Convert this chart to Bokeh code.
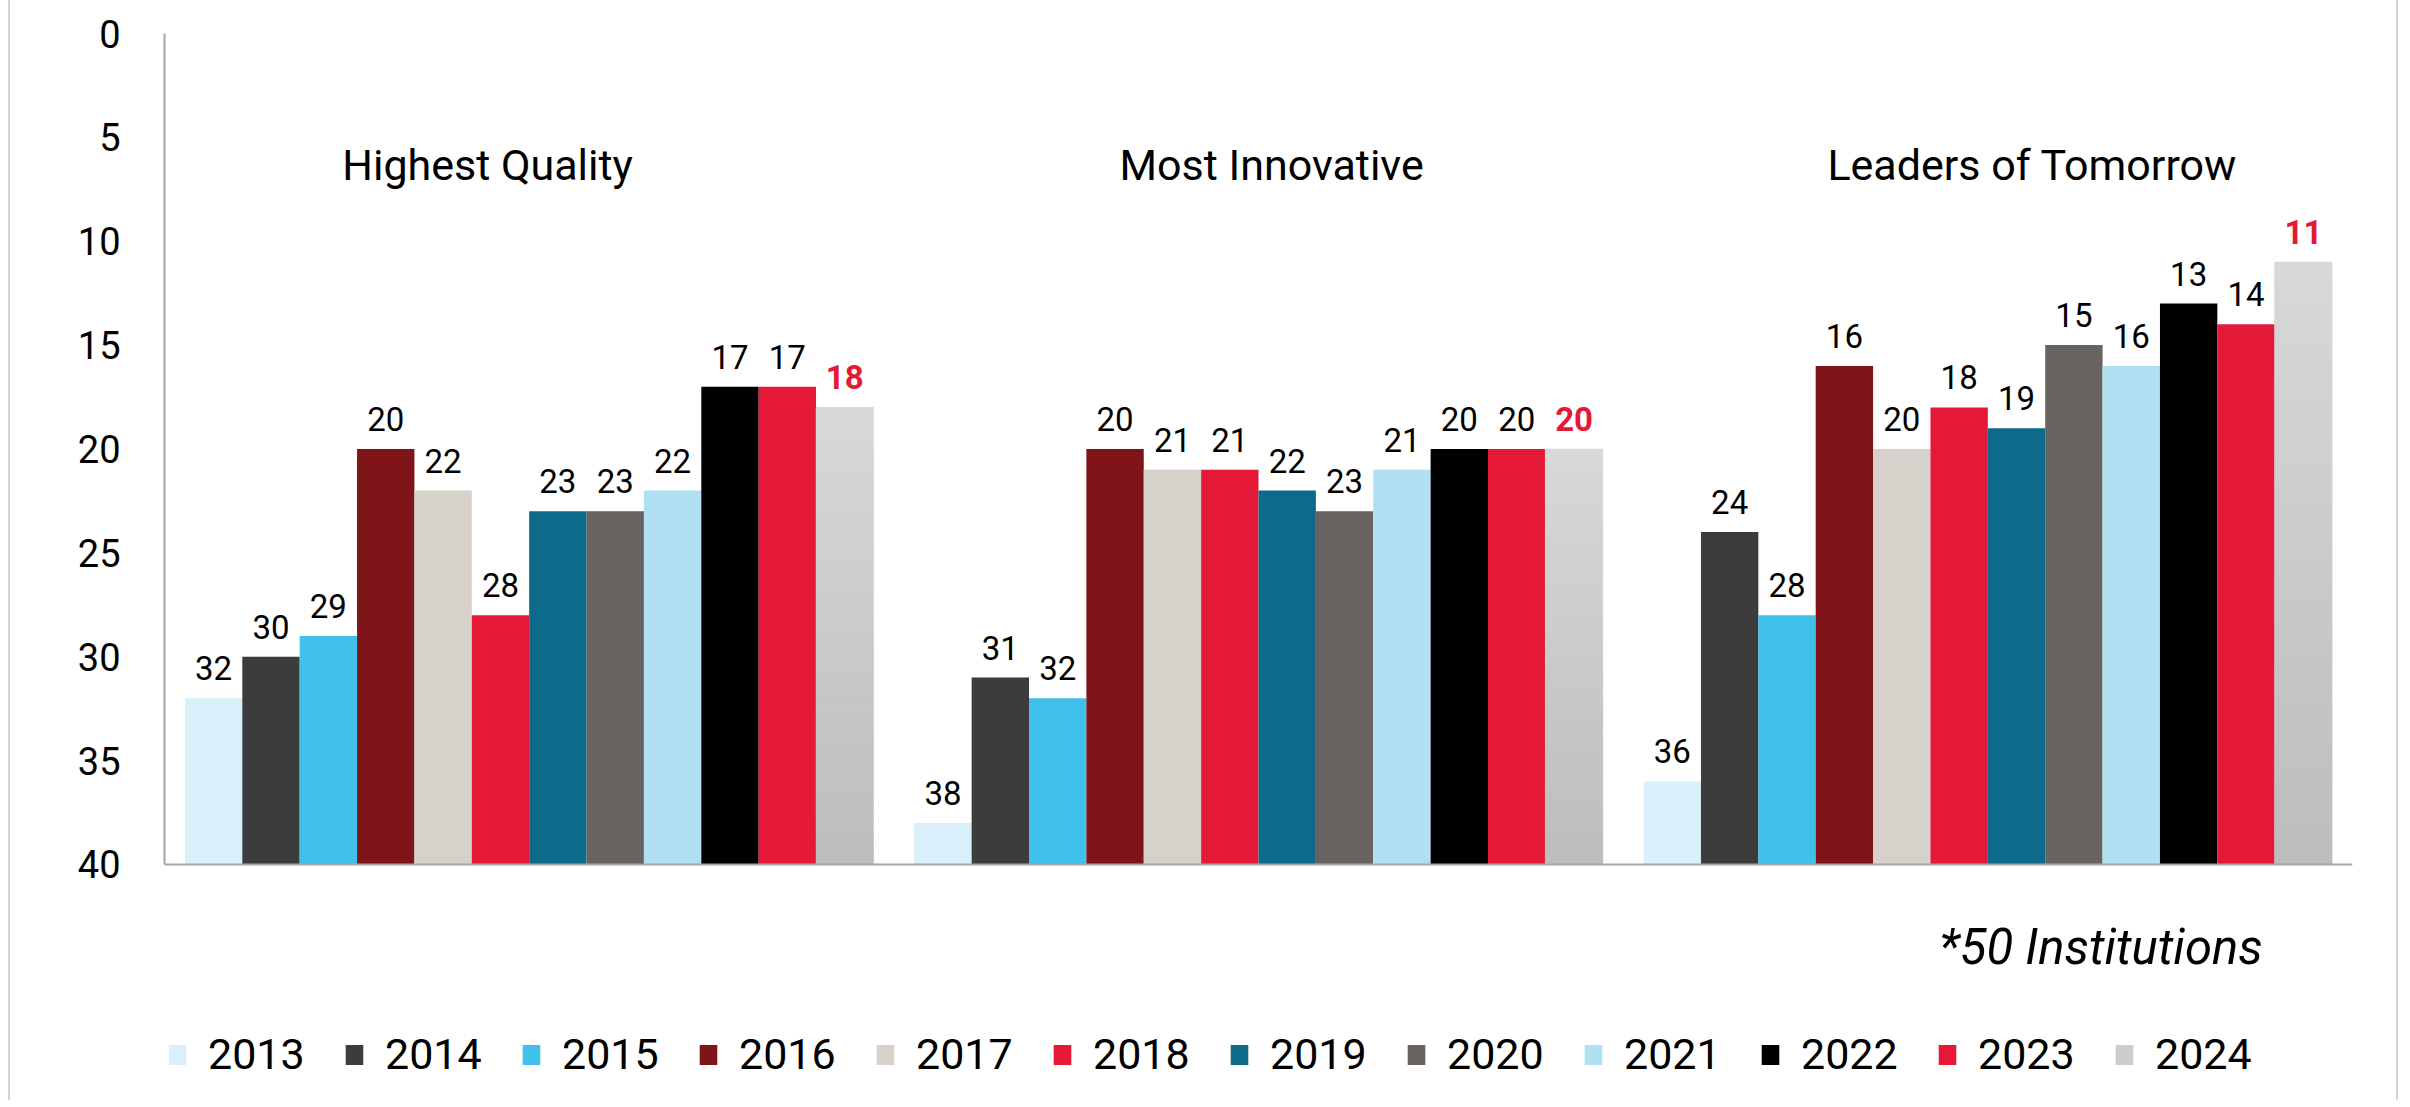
from bokeh.plotting import figure
from bokeh.models import (FactorRange, Range1d, ColumnDataSource, FixedTicker,
                          Span, Legend, LegendItem, Label)
from bokeh.transform import dodge
from bokeh.core.properties import value
from bokeh.embed import file_html
from bokeh.resources import INLINE

# ---------------- data ----------------
categories = ["Highest Quality", "Most Innovative", "Leaders of Tomorrow"]
years = ["2013", "2014", "2015", "2016", "2017", "2018",
         "2019", "2020", "2021", "2022", "2023", "2024"]
rank_2013 = [32, 38, 36]
rank_2014 = [30, 31, 24]
rank_2015 = [29, 32, 28]
rank_2016 = [20, 20, 16]
rank_2017 = [22, 21, 20]
rank_2018 = [28, 21, 18]
rank_2019 = [23, 22, 19]
rank_2020 = [23, 23, 15]
rank_2021 = [22, 21, 16]
rank_2022 = [17, 20, 13]
rank_2023 = [17, 20, 14]
rank_2024 = [18, 20, 11]
y_ticks = [0, 5, 10, 15, 20, 25, 30, 35, 40]
note_text = "*50 Institutions"

series = [rank_2013, rank_2014, rank_2015, rank_2016, rank_2017, rank_2018,
          rank_2019, rank_2020, rank_2021, rank_2022, rank_2023, rank_2024]

# ---------------- style ----------------
colors = ["#D9F0FA", "#3C3C3C", "#3FC1EB", "#7F1518", "#D6D1CB", "#E31937",
          "#0E6A8A", "#686360", "#B0E0F1", "#000000", "#E31937", "#CDCDCD"]
FONT = "Roboto"
AXIS_MAX = 40
group_fill = 0.944
bw = group_fill / len(years)
title_shift = [-0.057, 0.018, 0.061]
title_y = 6.35

p = figure(width=2390, height=1100,
           x_range=FactorRange(*categories, range_padding=0),
           y_range=Range1d(start=51.36, end=0),
           output_backend="svg", toolbar_location=None,
           min_border_left=154, min_border_right=48,
           min_border_top=33, min_border_bottom=0)
p.styles = {"margin-left": "8px",
            "border-left": "2px solid #D4D4D4",
            "border-right": "2px solid #D4D4D4"}
p.xaxis.visible = False
p.xgrid.visible = False
p.ygrid.visible = False
p.outline_line_color = None

yax = p.yaxis[0]
yax.ticker = FixedTicker(ticks=y_ticks)
yax.bounds = (0, AXIS_MAX)
yax.axis_line_color = "#A6A6A6"
yax.axis_line_width = 2
yax.major_tick_line_color = None
yax.minor_tick_line_color = None
yax.major_label_standoff = 38
yax.major_label_text_font = FONT
yax.major_label_text_font_size = "38px"
yax.major_label_text_color = "#000000"

p.add_layout(Span(location=AXIS_MAX, dimension="width",
                  line_color="#A6A6A6", line_width=2))

legend_items = []
for i, (yr, vals) in enumerate(zip(years, series)):
    off = -group_fill / 2 + (i + 0.5) * bw
    last = (i == len(years) - 1)
    src = ColumnDataSource(dict(cat=categories, val=vals,
                                lab=[str(v) for v in vals]))
    r = p.vbar(x=dodge("cat", off, range=p.x_range), top="val", bottom=AXIS_MAX,
               width=bw, source=src, fill_color=colors[i], line_color=None)
    legend_items.append(LegendItem(label=yr, renderers=[r]))
    if last:
        # gradient overlay (light top -> darker bottom)
        n = 30
        cats, tops, bots, cols = [], [], [], []
        for c, v in zip(categories, vals):
            for k in range(n):
                t = k / n
                cats.append(c)
                tops.append(v + (AXIS_MAX - v) * k / n)
                bots.append(v + (AXIS_MAX - v) * (k + 1) / n)
                g = int(round(216 - (216 - 188) * t))
                cols.append("#%02x%02x%02x" % (g, g, g))
        gsrc = ColumnDataSource(dict(cat=cats, top=tops, bot=bots, col=cols))
        p.vbar(x=dodge("cat", off, range=p.x_range), top="top", bottom="bot",
               width=bw, source=gsrc, fill_color="col", line_color="col",
               line_width=0.5)
    p.text(x=dodge("cat", off, range=p.x_range), y="val", text="lab", source=src,
           text_align="center", text_baseline="bottom", y_offset=-18,
           text_font=value(FONT), text_font_size="33px",
           text_font_style="bold" if last else "normal",
           text_color="#E31937" if last else "#000000")

# group titles
tsrc = ColumnDataSource(dict(x=[j + 0.5 + s for j, s in enumerate(title_shift)],
                             y=[title_y] * len(categories), t=categories))
p.text(x="x", y="y", text="t", source=tsrc, text_align="center",
       text_baseline="middle", text_font=value(FONT), text_font_size="43px",
       text_color="#000000")

p.add_layout(Label(x=2.877, y=44.0, text=note_text, text_align="right",
                   text_baseline="middle", text_font=FONT,
                   text_font_size="49px", text_font_style="italic",
                   text_color="#000000"))

legend = Legend(items=legend_items, orientation="horizontal",
                location=(2, 21), padding=0, margin=0, spacing=35,
                glyph_width=22, glyph_height=25, label_standoff=20,
                label_width=100, label_height=44,
                label_text_font=FONT, label_text_font_size="43px",
                label_text_color="#000000",
                border_line_color=None, background_fill_alpha=0)
p.add_layout(legend)

open("out.html", "w").write(file_html(p, INLINE))
